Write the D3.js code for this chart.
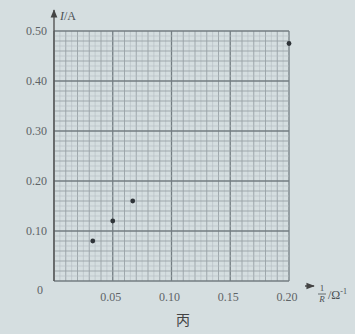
<!DOCTYPE html>
<html>
<head>
<meta charset="utf-8">
<script src="https://cdn.jsdelivr.net/npm/d3@7"></script>
<style>
  html, body { margin: 0; padding: 0; background: #d5dee0; }
  svg { display: block; }
</style>
</head>
<body>
<svg id="chart"></svg>
<script>
// measured points: 1/R (Ω^-1) vs I (A)
const invR = [0.033, 0.05, 0.067, 0.2];
const current = [0.08, 0.12, 0.16, 0.475];
const xTicks = [0.05, 0.10, 0.15, 0.20];
const yTicks = [0.10, 0.20, 0.30, 0.40, 0.50];

const width = 355;
const height = 334;
const $svg = d3.select("#chart").attr("width", width).attr("height", height);

const x = d3.scaleLinear().domain([0, 0.2]).range([54, 289]);
const y = d3.scaleLinear().domain([0, 0.5]).range([281, 31]);

const $grid = $svg.append("g");
// graph paper: fine, medium and heavy lines
const xLines = d3.range(0, 41).map((i) => i * 0.005);
const yLines = d3.range(0, 51).map((i) => i * 0.01);

const lineStyle = (i, heavyEvery, midEvery) => {
  if (i % heavyEvery === 0) return { c: "#737d82", w: 1.3 };
  if (i % midEvery === 0) return { c: "#98a2a6", w: 0.9 };
  return { c: "#b6bec2", w: 0.6 };
};

xLines.forEach((v, i) => {
  const s = lineStyle(i, 10, 2);
  $grid.append("line")
    .attr("x1", x(v)).attr("x2", x(v))
    .attr("y1", y(0)).attr("y2", y(0.5))
    .attr("stroke", s.c).attr("stroke-width", s.w);
});
yLines.forEach((v, i) => {
  const s = lineStyle(i, 10, 2);
  $grid.append("line")
    .attr("x1", x(0)).attr("x2", x(0.2))
    .attr("y1", y(v)).attr("y2", y(v))
    .attr("stroke", s.c).attr("stroke-width", s.w);
});

// axes with arrows
$svg.append("defs").append("marker")
  .attr("id", "arrow")
  .attr("viewBox", "0 0 10 10")
  .attr("refX", 9).attr("refY", 5)
  .attr("markerWidth", 6).attr("markerHeight", 6)
  .attr("orient", "auto")
  .append("path").attr("d", "M0,1 L10,5 L0,9 Z").attr("fill", "#444");

$svg.append("line")
  .attr("x1", x(0)).attr("x2", x(0))
  .attr("y1", y(0)).attr("y2", 10)
  .attr("stroke", "#555").attr("stroke-width", 1.4)
  .attr("marker-end", "url(#arrow)");
$svg.append("line")
  .attr("x1", 305).attr("x2", 314)
  .attr("y1", 286).attr("y2", 286)
  .attr("stroke", "#444").attr("stroke-width", 1.4)
  .attr("marker-end", "url(#arrow)");

const font = "'Liberation Serif', 'DejaVu Serif', serif";
const textColor = "#5e6366";

// y tick labels
$svg.append("g").selectAll("text")
  .data(yTicks).enter().append("text")
  .attr("x", 47).attr("y", (d) => y(d) + 4)
  .attr("text-anchor", "end")
  .attr("fill", textColor)
  .style("font-family", font).style("font-size", "12px")
  .text((d) => d.toFixed(2));

$svg.append("text")
  .attr("x", 40).attr("y", 294)
  .attr("text-anchor", "middle")
  .attr("fill", textColor)
  .style("font-family", font).style("font-size", "12px")
  .text("0");

// x tick labels
$svg.append("g").selectAll("text")
  .data(xTicks).enter().append("text")
  .attr("x", (d) => x(d) - 2).attr("y", 301)
  .attr("text-anchor", "middle")
  .attr("fill", textColor)
  .style("font-family", font).style("font-size", "12px")
  .text((d) => d.toFixed(2));

// axis titles
$svg.append("text")
  .attr("x", 60).attr("y", 20)
  .attr("fill", "#4a5054")
  .style("font-family", font).style("font-size", "12px").style("font-style", "italic")
  .text("I")
  .append("tspan").style("font-style", "normal").text("/A");

const $xt = $svg.append("g").attr("fill", "#4a5054")
  .style("font-family", font);
$xt.append("text").attr("x", 322).attr("y", 291)
  .attr("text-anchor", "middle").style("font-size", "9px").text("1");
$xt.append("line").attr("x1", 318).attr("x2", 326)
  .attr("y1", 294).attr("y2", 294).attr("stroke", "#4a5054").attr("stroke-width", 0.8);
$xt.append("text").attr("x", 322).attr("y", 302)
  .attr("text-anchor", "middle").style("font-size", "9px").style("font-style", "italic").text("R");
$xt.append("text").attr("x", 328).attr("y", 299)
  .style("font-size", "12px")
  .text("/Ω")
  .append("tspan").attr("dy", -5).style("font-size", "8px").text("-1");

// caption
$svg.append("text")
  .attr("x", 183).attr("y", 325)
  .attr("text-anchor", "middle")
  .attr("fill", "#444")
  .style("font-family", "'Noto Sans CJK SC', sans-serif").style("font-size", "14px")
  .text("丙");

// data points
$svg.append("g").selectAll("circle")
  .data(invR.map((v, i) => [v, current[i]])).enter().append("circle")
  .attr("cx", (d) => x(d[0])).attr("cy", (d) => y(d[1]))
  .attr("r", 2.4)
  .attr("fill", "#2f3438");
</script>
</body>
</html>
